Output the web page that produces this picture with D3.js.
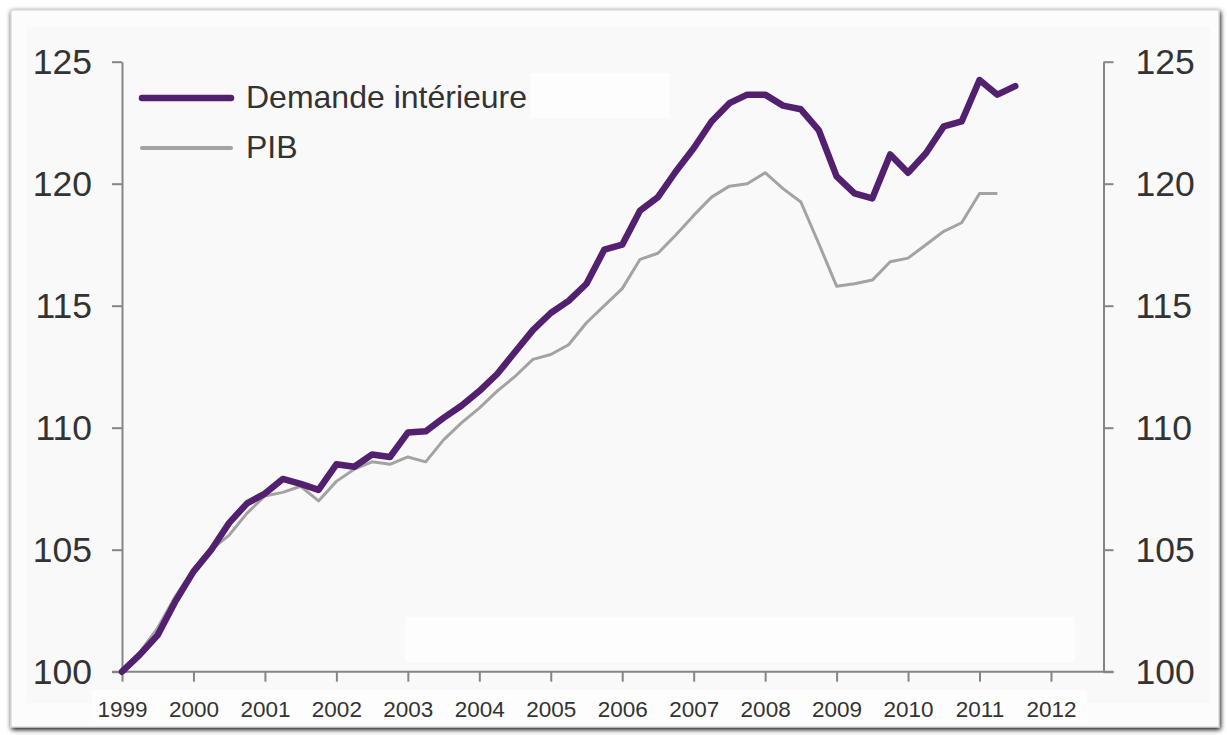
<!DOCTYPE html>
<html>
<head>
<meta charset="utf-8">
<script src="https://cdn.jsdelivr.net/npm/d3@7"></script>
<style>
  html, body { margin: 0; padding: 0; background: #fff; }
  svg text { font-family: "Liberation Sans", Arial, sans-serif; fill: #333; }
</style>
</head>
<body>
<div id="chart"></div>
<script>
// quarterly index, 1999 Q1 = 100
const startYear = 1999;
const yearTicks = d3.range(1999, 2013);
const valueTicks = [100, 105, 110, 115, 120, 125];
const seriesNames = ["Demande intérieure", "PIB"];

const demande = [100.0, 100.7, 101.5, 102.9, 104.1, 105.0, 106.1, 106.9, 107.3, 107.9,
                 107.7, 107.45, 108.5, 108.4, 108.9, 108.8, 109.8, 109.85, 110.4, 110.9,
                 111.5, 112.2, 113.1, 114.0, 114.7, 115.2, 115.9, 117.3, 117.5, 118.9,
                 119.45, 120.5, 121.45, 122.55, 123.3, 123.65, 123.65, 123.2, 123.05, 122.2,
                 120.3, 119.6, 119.4, 121.2, 120.45, 121.25, 122.35, 122.55, 124.25, 123.65,
                 124.0];
const pib = [100.0, 100.8, 101.8, 103.1, 104.2, 105.0, 105.6, 106.5, 107.2, 107.35,
             107.6, 107.0, 107.8, 108.3, 108.6, 108.5, 108.8, 108.6, 109.5, 110.2,
             110.8, 111.5, 112.1, 112.8, 113.0, 113.4, 114.3, 115.0, 115.7, 116.9,
             117.15, 117.9, 118.7, 119.45, 119.9, 120.0, 120.45, 119.8, 119.25, 117.55,
             115.8, 115.9, 116.05, 116.8, 116.95, 117.5, 118.05, 118.4, 119.6, 119.6];

const width = 1227, height = 735;
const plot = {left: 122, right: 1103.5, top: 61.7, bottom: 671.7};

const svg = d3.select("#chart")
  .append("svg")
    .attr("width", width)
    .attr("height", height);

// frame with a soft shadow, like the pasted picture
const defs = svg.append("defs");
const shadow = defs.append("filter").attr("id", "shadow")
  .attr("x", "-5%").attr("y", "-5%").attr("width", "110%").attr("height", "110%");
shadow.append("feGaussianBlur").attr("in", "SourceAlpha").attr("stdDeviation", 2.5);
shadow.append("feOffset").attr("dx", 1).attr("dy", 2).attr("result", "b");
const merge = shadow.append("feMerge");
merge.append("feMergeNode").attr("in", "b");
merge.append("feMergeNode").attr("in", "SourceGraphic");

svg.append("rect").attr("width", width).attr("height", height).attr("fill", "#fff");
svg.append("rect")
  .attr("x", 11).attr("y", 10).attr("width", 1208).attr("height", 717)
  .attr("fill", "#fcfcfc").attr("stroke", "#d4d4d4").attr("stroke-width", 1.2)
  .attr("filter", "url(#shadow)");
svg.append("rect")
  .attr("x", 27).attr("y", 27).attr("width", 1183).attr("height", 676)
  .attr("fill", "#f9f9f9");
// pasted white patches
svg.append("rect").attr("x", 92).attr("y", 690).attr("width", 995).attr("height", 36).attr("fill", "#fdfdfd");
svg.append("rect").attr("x", 405).attr("y", 617).attr("width", 670).attr("height", 45).attr("fill", "#fdfdfd");
svg.append("rect").attr("x", 530).attr("y", 73).attr("width", 140).attr("height", 45).attr("fill", "#fdfdfd");

const x = d3.scaleLinear()
  .domain([startYear, startYear + 13.735])
  .range([plot.left, plot.right]);

const y = d3.scaleLinear()
  .domain([100, 125])
  .range([plot.bottom, plot.top]);

const axisColor = "#858585";

// X axis
const xAxis = svg.append("g")
  .attr("transform", `translate(0, ${plot.bottom})`)
  .call(d3.axisBottom(x).tickValues(yearTicks).tickFormat(d3.format("d")).tickSize(10).tickSizeOuter(0).tickPadding(19));
xAxis.select(".domain").remove();
xAxis.selectAll(".tick line").attr("stroke", axisColor).attr("stroke-width", 2);
xAxis.selectAll(".tick text").style("font-size", "22.5px").attr("fill", "#222");
svg.append("line")
  .attr("x1", plot.left - 10).attr("x2", plot.right + 10)
  .attr("y1", plot.bottom).attr("y2", plot.bottom)
  .attr("stroke", axisColor).attr("stroke-width", 2);

// Left Y axis
const yLeft = svg.append("g")
  .attr("transform", `translate(${plot.left}, 0)`)
  .call(d3.axisLeft(y).tickValues(valueTicks).tickSize(10).tickSizeOuter(0).tickPadding(20));
yLeft.select(".domain").attr("stroke", axisColor).attr("stroke-width", 2);
yLeft.selectAll(".tick line").attr("stroke", axisColor).attr("stroke-width", 2);
yLeft.selectAll(".tick text").style("font-size", "35.5px").attr("fill", "#333");

// Right Y axis
const yRight = svg.append("g")
  .attr("transform", `translate(${plot.right}, 0)`)
  .call(d3.axisRight(y).tickValues(valueTicks).tickSize(10).tickSizeOuter(0).tickPadding(22));
yRight.select(".domain").attr("stroke", axisColor).attr("stroke-width", 2);
yRight.selectAll(".tick line").attr("stroke", axisColor).attr("stroke-width", 2);
yRight.selectAll(".tick text").style("font-size", "35.5px").attr("fill", "#333");

// lines
const line = d3.line()
  .x((d, i) => x(startYear + i / 4))
  .y(d => y(d));

svg.append("path")
  .datum(pib)
  .attr("fill", "none")
  .attr("stroke", "#a3a3a3")
  .attr("stroke-width", 3)
  .attr("stroke-linejoin", "round")
  .attr("d", line);

svg.append("path")
  .datum(demande)
  .attr("fill", "none")
  .attr("stroke", "#53206f")
  .attr("stroke-width", 6.5)
  .attr("stroke-linejoin", "round")
  .attr("stroke-linecap", "round")
  .attr("d", line);

// legend
const legend = svg.append("g");
const legendItems = [
  {name: seriesNames[0], color: "#53206f", w: 6.5, y: 98},
  {name: seriesNames[1], color: "#a3a3a3", w: 4, y: 148}
];
legendItems.forEach(d => {
  legend.append("line")
    .attr("x1", 142).attr("x2", 231)
    .attr("y1", d.y).attr("y2", d.y)
    .attr("stroke", d.color).attr("stroke-width", d.w)
    .attr("stroke-linecap", "round");
  legend.append("text")
    .attr("x", 246).attr("y", d.y + 10)
    .style("font-size", "32px")
    .attr("fill", "#333")
    .text(d.name);
});
</script>
</body>
</html>
